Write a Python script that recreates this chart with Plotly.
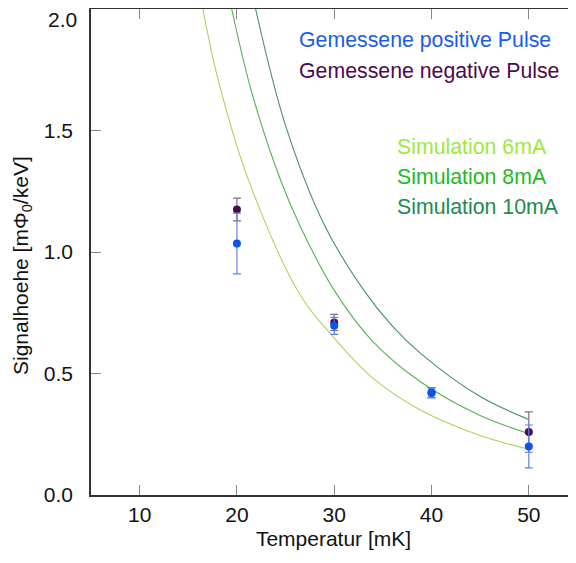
import plotly.graph_objects as go

# Measured data
T_meas = [20, 30, 40, 50]
pos_vals = [1.035, 0.696, 0.420, 0.200]
pos_err = [0.125, 0.035, 0.020, 0.088]
neg_vals = [1.175, 0.710, 0.422, 0.259]
neg_err = [0.047, 0.033, 0.020, 0.083]

# Simulation curves
sim6_T = [16.5, 18.0, 21.2, 26.5, 29.6, 34.0, 38.9, 45.0, 50.0]
sim6_y = [2.0, 1.72, 1.295, 0.823, 0.664, 0.48, 0.349, 0.245, 0.188]
sim8_T = [19.46, 21.5, 24.5, 26.55, 30.0, 34.0, 38.9, 45.0, 50.0]
sim8_y = [2.0, 1.66, 1.294, 1.102, 0.842, 0.63, 0.465, 0.327, 0.253]
sim10_T = [21.92, 25.0, 29.0, 33.05, 36.0, 38.9, 45.0, 50.0]
sim10_y = [2.0, 1.52, 1.11, 0.842, 0.694, 0.582, 0.405, 0.311]

x_ticks = [10, 20, 30, 40, 50]
y_ticks = [0.0, 0.5, 1.0, 1.5, 2.0]

FONT = "Liberation Sans, Arial, sans-serif"

fig = go.Figure()
fig.add_trace(go.Scatter(x=sim6_T, y=sim6_y, mode="lines", line=dict(color="#a9d45a", width=1.1, shape="spline"), hoverinfo="skip"))
fig.add_trace(go.Scatter(x=sim8_T, y=sim8_y, mode="lines", line=dict(color="#58b052", width=1.1, shape="spline"), hoverinfo="skip"))
fig.add_trace(go.Scatter(x=sim10_T, y=sim10_y, mode="lines", line=dict(color="#458d70", width=1.1, shape="spline"), hoverinfo="skip"))
fig.add_trace(go.Scatter(x=T_meas, y=neg_vals, mode="markers",
                         marker=dict(color="#4a0a50", size=8),
                         error_y=dict(type="data", array=neg_err, color="#85668c", thickness=1.2, width=4)))
fig.add_trace(go.Scatter(x=T_meas, y=pos_vals, mode="markers",
                         marker=dict(color="#0a55f0", size=8),
                         error_y=dict(type="data", array=pos_err, color="#5d82e0", thickness=1.2, width=4)))

# page offset of the figure div (browser body margin)
OFF = 8
W, H = 568, 555
L, R, T, B = 83, 0, 1, 68
pw, ph = W - L - R, H - T - B

def px(x):  # page pixel -> paper
    return (x - OFF - L) / pw

def py(y):
    return (H - B - (y - OFF)) / ph

labels = [
    ("Gemessene positive Pulse", 297, 40, "#1a5ce8"),
    ("Gemessene negative Pulse", 297, 71, "#4d0a4d"),
    ("Simulation 6mA", 395, 147, "#9ee83a"),
    ("Simulation 8mA", 395, 177, "#1fba1f"),
    ("Simulation 10mA", 395, 207, "#1e8a4e"),
]
ann = []
for txt, x0, y0, col in labels:
    ann.append(dict(text=txt, x=px(x0), y=py(y0), xref="paper", yref="paper",
                    xanchor="left", yanchor="middle", showarrow=False,
                    font=dict(size=21.3, color=col, family=FONT)))
# top y tick label (shifted inside the figure as in the reference)
ann.append(dict(text=f"{y_ticks[-1]:.1f}", x=px(79), y=py(19), xref="paper", yref="paper",
                xanchor="right", yanchor="middle", showarrow=False,
                font=dict(size=21, color="#111", family=FONT)))
# y-axis title (placed as in the reference)
ann.append(dict(text="Signalhoehe [mΦ<sub>0</sub>/keV]", x=px(22), y=py(266), xref="paper", yref="paper",
                xanchor="center", yanchor="middle", textangle=-90, showarrow=False,
                font=dict(size=21, color="#111", family=FONT)))

fig.update_layout(
    width=W, height=H,
    margin=dict(l=L, r=R, t=T, b=B, autoexpand=False),
    plot_bgcolor="white", paper_bgcolor="white",
    showlegend=False,
    annotations=ann,
    font=dict(family=FONT, color="#111"),
    xaxis=dict(range=[5, 54.85], tickvals=x_ticks, ticktext=[str(v) for v in x_ticks],
               ticks="inside", ticklen=10, tickcolor="#888", tickwidth=1,
               showline=True, linecolor="#333", linewidth=1.5, mirror="ticks",
               showgrid=False, zeroline=False, automargin=False,
               tickfont=dict(size=21, color="#111"),
               title=dict(text="Temperatur [mK]", font=dict(size=21, color="#111"), standoff=6)),
    yaxis=dict(range=[0, 2.0], tickvals=y_ticks[:-1], ticktext=[f"{v:.1f}" for v in y_ticks[:-1]],
               ticks="inside", ticklen=10, tickcolor="#888", tickwidth=1,
               showline=True, linecolor="#333", linewidth=1.5, mirror=False,
               showgrid=False, zeroline=False, ticklabelstandoff=12, automargin=False,
               ticklabeloverflow="allow",
               tickfont=dict(size=21, color="#111")),
)

fig.write_html("out.html")
